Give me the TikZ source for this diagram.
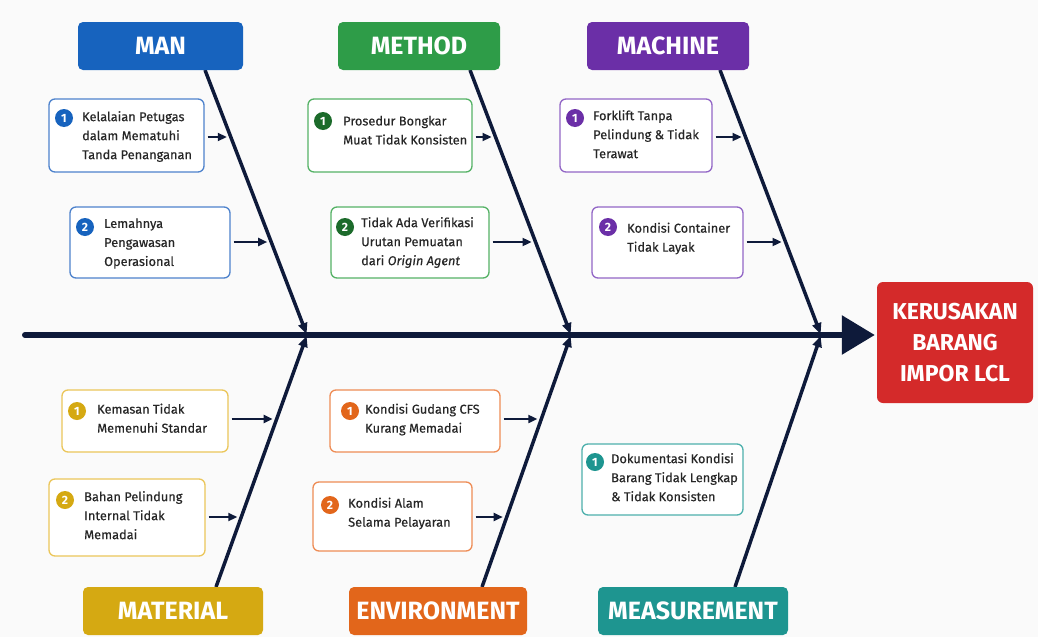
\documentclass[tikz,border=0pt]{standalone}
\usepackage{fontspec}
\setmainfont{Fira Sans}
\newfontfamily\bodyfont[FakeBold=0.35]{Fira Sans}
\usetikzlibrary{arrows.meta,calc}

% category colours: strong fill, light border, badge
\definecolor{bg}{HTML}{FAFAFA}
\definecolor{spine}{HTML}{0E1A3A}
\definecolor{txt}{HTML}{262626}
\definecolor{manF}{HTML}{1763BE}
\definecolor{manL}{HTML}{4D82CC}
\definecolor{methF}{HTML}{2E9C48}
\definecolor{methL}{HTML}{55B266}
\definecolor{methD}{HTML}{1C6B2B}
\definecolor{machF}{HTML}{6B2FA7}
\definecolor{machL}{HTML}{9266C6}
\definecolor{matF}{HTML}{D5A912}
\definecolor{matL}{HTML}{EBC65A}
\definecolor{envF}{HTML}{E2661B}
\definecolor{envL}{HTML}{EE8C55}
\definecolor{measF}{HTML}{1E9590}
\definecolor{measL}{HTML}{4DB0AC}
\definecolor{effF}{HTML}{D42A2A}

\begin{document}
\begin{tikzpicture}[x=1pt,y=-1pt,
  header/.style={fill=#1, rounded corners=5pt, minimum height=48pt, inner sep=0pt,
    text=white, font=\bfseries\fontsize{25}{25}\selectfont},
  causebox/.style={draw=#1, line width=1.3pt, rounded corners=6pt, fill=white, inner sep=0pt},
  badge/.style={circle, fill=#1, text=white, minimum size=18pt, inner sep=0pt,
    font=\bfseries\fontsize{12}{12}\selectfont},
  causetext/.style={anchor=west, align=left, inner sep=0pt, text=txt,
    font=\bodyfont\fontsize{12.8}{19}\selectfont,
    execute at begin node=\strut, execute at end node=\strut},
  spineline/.style={line width=6pt, draw=spine, line cap=round,
    -{Triangle[length=33pt,width=38pt]}},
  bone/.style={line width=3.5pt, draw=spine, -{Triangle[length=11pt,width=9pt]}, shorten >=1pt},
  causearrow/.style={line width=2pt, draw=spine, -{Triangle[length=9pt,width=8pt]},
    shorten <=3pt, shorten >=4pt}
]
% canvas
\fill[bg] (0,0) rectangle (1038,637);

% effect box
\node[fill=effF, rounded corners=6pt, minimum width=156pt, minimum height=121pt, inner sep=0pt,
  text=white, align=center, font=\bfseries\fontsize{23}{31}\selectfont]
  (effect) at (955,342.5) {KERUSAKAN\\BARANG\\IMPOR LCL};

% bone end points
\coordinate (sp0)   at (25,335);
\coordinate (jL)    at (307,335);
\coordinate (jM)    at (571,335);
\coordinate (jR)    at (821,335);
\coordinate (manA)  at (205,70);
\coordinate (methA) at (470,70);
\coordinate (machA) at (720,70);
\coordinate (matA)  at (216,587);
\coordinate (envA)  at (482,587);
\coordinate (measA) at (735,587);

% spine
\draw[spineline, shorten >=2pt] (sp0) -- (effect.west |- sp0);

% bones
\draw[bone] (manA)  -- (jL);
\draw[bone] (methA) -- (jM);
\draw[bone] (machA) -- (jR);
\draw[bone] (matA)  -- (jL);
\draw[bone] (envA)  -- (jM);
\draw[bone] (measA) -- (jR);

% points where the cause arrows meet the bones
\coordinate (pMan1)  at ($(manA)!{(137-70)/265}!(jL)$);
\coordinate (pMan2)  at ($(manA)!{(242-70)/265}!(jL)$);
\coordinate (pMeth1) at ($(methA)!{(137-70)/265}!(jM)$);
\coordinate (pMeth2) at ($(methA)!{(242-70)/265}!(jM)$);
\coordinate (pMach1) at ($(machA)!{(137-70)/265}!(jR)$);
\coordinate (pMach2) at ($(machA)!{(242-70)/265}!(jR)$);
\coordinate (pMat1)  at ($(matA)!{(587-419)/252}!(jL)$);
\coordinate (pMat2)  at ($(matA)!{(587-517)/252}!(jL)$);
\coordinate (pEnv1)  at ($(envA)!{(587-419)/252}!(jM)$);
\coordinate (pEnv2)  at ($(envA)!{(587-517)/252}!(jM)$);

% category headers
\node[header=manF,  minimum width=165pt] (man)  at (160.5,46) {MAN};
\node[header=methF, minimum width=162pt] (meth) at (419,46)   {METHOD};
\node[header=machF, minimum width=162pt] (mach) at (668,46)   {MACHINE};
\node[header=matF,  minimum width=180pt] (mat)  at (173,611)  {MATERIAL};
\node[header=envF,  minimum width=178pt] (env)  at (438,611)  {ENVIRONMENT};
\node[header=measF, minimum width=190pt] (meas) at (693,611)  {MEASUREMENT};

% ---- MAN
\node[causebox=manL, minimum width=155pt, minimum height=73pt] (man1) at (126.5,135.5) {};
\node[badge=manF] (man1n) at (64,118) {1};
\node[causetext] (man1t) at (82,138) {Kelalaian Petugas\\dalam Mematuhi\\Tanda Penanganan};
\draw[causearrow] (man1.east |- pMan1) -- (pMan1);

\node[causebox=manL, minimum width=160pt, minimum height=71pt] (man2) at (150,242.5) {};
\node[badge=manF] (man2n) at (85,227) {2};
\node[causetext] (man2t) at (104,245) {Lemahnya\\Pengawasan\\Operasional};
\draw[causearrow] (man2.east |- pMan2) -- (pMan2);

% ---- METHOD
\node[causebox=methL, minimum width=164pt, minimum height=73pt] (meth1) at (390,135.5) {};
\node[badge=methD] (meth1n) at (323,121) {1};
\node[causetext] (meth1t) at (343,133) {Prosedur Bongkar\\Muat Tidak Konsisten};
\draw[causearrow] (meth1.east |- pMeth1) -- (pMeth1);

\node[causebox=methL, minimum width=158pt, minimum height=71pt] (meth2) at (410,242.5) {};
\node[badge=methD] (meth2n) at (345,227) {2};
\node[causetext] (meth2t) at (361,244) {Tidak Ada Verifikasi\\Urutan Pemuatan\\dari \textit{Origin Agent}};
\draw[causearrow] (meth2.east |- pMeth2) -- (pMeth2);

% ---- MACHINE
\node[causebox=machL, minimum width=152pt, minimum height=73pt] (mach1) at (636,135.5) {};
\node[badge=machF] (mach1n) at (575,118) {1};
\node[causetext] (mach1t) at (593,137) {Forklift Tanpa\\Pelindung \& Tidak\\Terawat};
\draw[causearrow] (mach1.east |- pMach1) -- (pMach1);

\node[causebox=machL, minimum width=151pt, minimum height=71pt] (mach2) at (667.5,242.5) {};
\node[badge=machF] (mach2n) at (608,227) {2};
\node[causetext] (mach2t) at (627,240) {Kondisi Container\\Tidak Layak};
\draw[causearrow] (mach2.east |- pMach2) -- (pMach2);

% ---- MATERIAL
\node[causebox=matL, minimum width=166pt, minimum height=62pt] (mat1) at (145,421) {};
\node[badge=matF] (mat1n) at (77,411) {1};
\node[causetext] (mat1t) at (97,421) {Kemasan Tidak\\Memenuhi Standar};
\draw[causearrow] (mat1.east |- pMat1) -- (pMat1);

\node[causebox=matL, minimum width=156pt, minimum height=77pt] (mat2) at (127,517.5) {};
\node[badge=matF] (mat2n) at (65,500) {2};
\node[causetext] (mat2t) at (84,518) {Bahan Pelindung\\Internal Tidak\\Memadai};
\draw[causearrow] (mat2.east |- pMat2) -- (pMat2);

% ---- ENVIRONMENT
\node[causebox=envL, minimum width=170pt, minimum height=62pt] (env1) at (415,421) {};
\node[badge=envF] (env1n) at (350,411) {1};
\node[causetext] (env1t) at (365,421) {Kondisi Gudang CFS\\Kurang Memadai};
\draw[causearrow] (env1.east |- pEnv1) -- (pEnv1);

\node[causebox=envL, minimum width=159pt, minimum height=69pt] (env2) at (392.5,516.5) {};
\node[badge=envF] (env2n) at (330,505) {2};
\node[causetext] (env2t) at (348,515) {Kondisi Alam\\Selama Pelayaran};
\draw[causearrow] (env2.east |- pEnv2) -- (pEnv2);

% ---- MEASUREMENT
\node[causebox=measL, minimum width=161pt, minimum height=71pt] (meas1) at (662.5,479.5) {};
\node[badge=measF] (meas1n) at (595,462) {1};
\node[causetext] (meas1t) at (611,480) {Dokumentasi Kondisi\\Barang Tidak Lengkap\\\& Tidak Konsisten};
\end{tikzpicture}
\end{document}
